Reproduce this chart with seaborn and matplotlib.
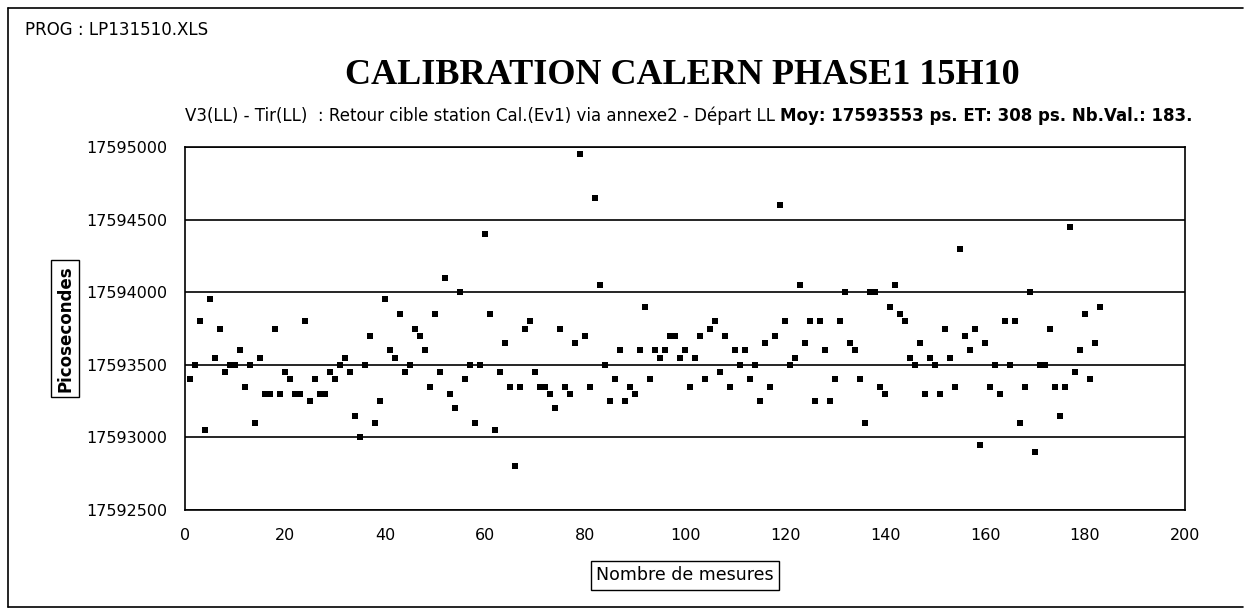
import matplotlib
matplotlib.use("Agg")
import matplotlib.pyplot as plt
import seaborn as sns
import pandas as pd
from matplotlib.lines import Line2D

mesures = list(range(1, 184))
picosecondes = [
    17593400, 17593500, 17593800, 17593050, 17593950, 17593550, 17593750, 17593450, 17593500, 17593500,
    17593600, 17593350, 17593500, 17593100, 17593550, 17593300, 17593300, 17593750, 17593300, 17593450,
    17593400, 17593300, 17593300, 17593800, 17593250, 17593400, 17593300, 17593300, 17593450, 17593400,
    17593500, 17593550, 17593450, 17593150, 17593000, 17593500, 17593700, 17593100, 17593250, 17593950,
    17593600, 17593550, 17593850, 17593450, 17593500, 17593750, 17593700, 17593600, 17593350, 17593850,
    17593450, 17594100, 17593300, 17593200, 17594000, 17593400, 17593500, 17593100, 17593500, 17594400,
    17593850, 17593050, 17593450, 17593650, 17593350, 17592800, 17593350, 17593750, 17593800, 17593450,
    17593350, 17593350, 17593300, 17593200, 17593750, 17593350, 17593300, 17593650, 17594950, 17593700,
    17593350, 17594650, 17594050, 17593500, 17593250, 17593400, 17593600, 17593250, 17593350, 17593300,
    17593600, 17593900, 17593400, 17593600, 17593550, 17593600, 17593700, 17593700, 17593550, 17593600,
    17593350, 17593550, 17593700, 17593400, 17593750, 17593800, 17593450, 17593700, 17593350, 17593600,
    17593500, 17593600, 17593400, 17593500, 17593250, 17593650, 17593350, 17593700, 17594600, 17593800,
    17593500, 17593550, 17594050, 17593650, 17593800, 17593250, 17593800, 17593600, 17593250, 17593400,
    17593800, 17594000, 17593650, 17593600, 17593400, 17593100, 17594000, 17594000, 17593350, 17593300,
    17593900, 17594050, 17593850, 17593800, 17593550, 17593500, 17593650, 17593300, 17593550, 17593500,
    17593300, 17593750, 17593550, 17593350, 17594300, 17593700, 17593600, 17593750, 17592950, 17593650,
    17593350, 17593500, 17593300, 17593800, 17593500, 17593800, 17593100, 17593350, 17594000, 17592900,
    17593500, 17593500, 17593750, 17593350, 17593150, 17593350, 17594450, 17593450, 17593600, 17593850,
    17593400, 17593650, 17593900,
]
x_ticks = list(range(0, 201, 20))
y_ticks = list(range(17592500, 17595001, 500))

titre = "CALIBRATION CALERN PHASE1 15H10"
sous_titre = "V3(LL) - Tir(LL)  : Retour cible station Cal.(Ev1) via annexe2 - Départ LL "
sous_titre_gras = "Moy: 17593553 ps. ET: 308 ps. Nb.Val.: 183."

sns.set_style("white")
plt.rcParams['font.family'] = ['DejaVu Sans']
plt.rcParams['text.color'] = 'black'
plt.rcParams['axes.labelcolor'] = 'black'

df = pd.DataFrame({'Nombre de mesures': mesures, 'Picosecondes': picosecondes})

fig = plt.figure(figsize=(12.51, 6.15), dpi=100)
ax = fig.add_axes([185 / 1251, 105 / 615, 1000 / 1251, 363 / 615])

sns.scatterplot(data=df, x='Nombre de mesures', y='Picosecondes', marker='s',
                color='black', s=22, linewidth=0, ax=ax, zorder=3)

ax.set_xlim(0, 200)
ax.set_ylim(17592500, 17595000)
ax.set_xticks(x_ticks)
ax.set_yticks(y_ticks)
ax.ticklabel_format(axis='y', style='plain', useOffset=False)
ax.yaxis.grid(True, color='black', linewidth=1.2)
ax.xaxis.grid(False)
ax.set_axisbelow(True)
for sp in ax.spines.values():
    sp.set_color('black')
    sp.set_linewidth(1.2)
ax.tick_params(axis='x', direction='inout', length=6, width=1.2, labelsize=11.5, pad=10, colors='black')
ax.tick_params(axis='y', direction='out', length=4.5, width=1.2, labelsize=11.5, pad=8.5, colors='black')

ax.set_xlabel('Nombre de mesures', fontsize=12.5,
              bbox=dict(boxstyle='square,pad=0.3', fc='white', ec='black', lw=1))
ax.xaxis.set_label_coords(0.5, -0.18)
ax.xaxis.label.set_va('center')
ax.set_ylabel('Picosecondes', fontsize=12, fontweight='bold',
              bbox=dict(boxstyle='square,pad=0.3', fc='white', ec='black', lw=1))
ax.yaxis.set_label_coords(-0.12, 0.5)
ax.yaxis.label.set_va('center')

# Titres
fig.text(682 / 1251, 1 - 75 / 615, titre, ha='center', va='center', fontsize=26,
         fontweight='bold', family='Liberation Serif')
t1 = fig.text(185 / 1251, 1 - 125 / 615, sous_titre, ha='left', va='bottom', fontsize=12)
ax.annotate(sous_titre_gras, xy=(1, 0), xycoords=t1, ha='left', va='bottom',
            fontsize=12, fontweight='bold')
fig.text(25 / 1251, 1 - 30 / 615, 'PROG : LP131510.XLS', ha='left', va='center', fontsize=12)

# Cadre de la feuille
x0, y0, y1 = 8 / 1251, 1 - 607 / 615, 1 - 8 / 615
fig.add_artist(Line2D([x0, x0], [y0, y1], transform=fig.transFigure, color='black', lw=1.2))
fig.add_artist(Line2D([x0, 1 - 8 / 1251], [y1, y1], transform=fig.transFigure, color='black', lw=1.2))
fig.add_artist(Line2D([x0, 1 - 8 / 1251], [y0, y0], transform=fig.transFigure, color='black', lw=1.2))

fig.savefig('out.png', dpi=100)
